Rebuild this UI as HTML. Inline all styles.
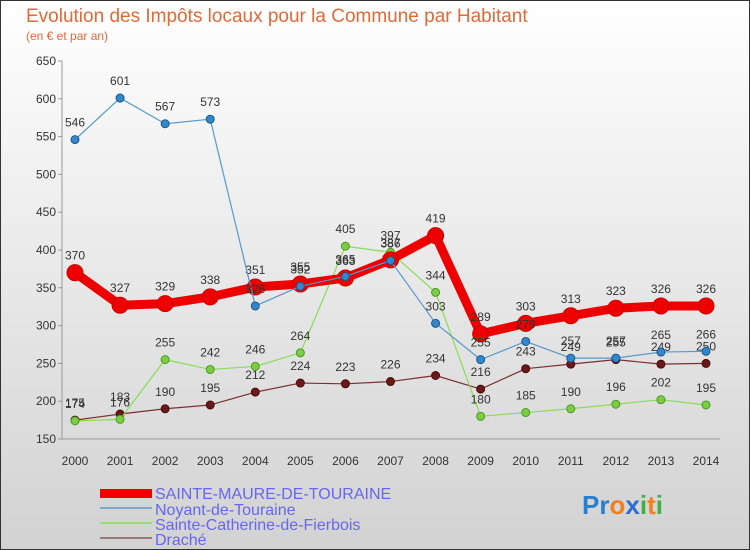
<!DOCTYPE html>
<html><head><meta charset="utf-8"><style>
body{margin:0;}
#c{position:relative;width:750px;height:550px;overflow:hidden;font-family:"Liberation Sans",sans-serif;}
</style></head><body>
<div id="c">
<svg id="s" width="750" height="550" xmlns="http://www.w3.org/2000/svg">
<defs><linearGradient id="bg" x1="0" y1="0" x2="0" y2="1"><stop offset="0" stop-color="#ffffff"/><stop offset="1" stop-color="#d2d2d2"/></linearGradient></defs>
<rect x="0" y="0" width="750" height="550" fill="url(#bg)" stroke="#333" stroke-width="2"/>
<text x="26" y="22" font-size="19" fill="#e06a3a">Evolution des Impôts locaux pour la Commune par Habitant</text>
<text x="26" y="40" font-size="12" fill="#e06a3a">(en € et par an)</text>
<g id="axes"></g><g id="series"></g>
<g font-size="16" fill="#6666ee">
<rect x="100" y="489" width="52" height="9" fill="#ee0000"/>
<text x="155" y="499">SAINTE-MAURE-DE-TOURAINE</text>
<line x1="100" y1="508" x2="152" y2="508" stroke="#7aaad0" stroke-width="2"/>
<text x="155" y="515">Noyant-de-Touraine</text>
<line x1="100" y1="523" x2="152" y2="523" stroke="#99dd77" stroke-width="2"/>
<text x="155" y="530">Sainte-Catherine-de-Fierbois</text>
<line x1="100" y1="538" x2="152" y2="538" stroke="#997777" stroke-width="2"/>
<text x="155" y="545">Draché</text>
</g>
<text x="582" y="514" font-size="26" font-weight="bold"><tspan fill="#2a7fd0">Pr</tspan><tspan fill="#f08020">o</tspan><tspan fill="#2a6fd0">x</tspan><tspan fill="#40b040">i</tspan><tspan fill="#f08020">t</tspan><tspan fill="#40b040">i</tspan></text>
</svg>
</div>
<script>
const years=[2000,2001,2002,2003,2004,2005,2006,2007,2008,2009,2010,2011,2012,2013,2014];
const sainteMaure=[370,327,329,338,351,355,363,387,419,289,303,313,323,326,326];
const noyant=[546,601,567,573,326,352,365,386,303,255,279,257,257,265,266];
const sainteCatherine=[174,176,255,242,246,264,405,397,344,180,185,190,196,202,195];
const drache=[175,183,190,195,212,224,223,226,234,216,243,249,255,249,250];
const yTicks=[150,200,250,300,350,400,450,500,550,600,650];
const NS="http://www.w3.org/2000/svg";
const xS=i=>75+i*(706-75)/14;
const yS=v=>439-(v-150)*378/500;
function el(t,a,p){const e=document.createElementNS(NS,t);for(const k in a)e.setAttribute(k,a[k]);p.appendChild(e);return e;}
const ax=document.getElementById('axes');
let l=el('line',{x1:62,y1:yS(650),x2:62,y2:439,stroke:'#999'},ax);


l=el('line',{x1:62,y1:439,x2:720,y2:439,stroke:'#999'},ax);


yTicks.forEach(v=>{const t=el('text',{x:56,y:yS(v)+4,'font-size':12,'text-anchor':'end',fill:'#333'},ax);t.textContent=v;


el('line',{x1:58,y1:yS(v),x2:62,y2:yS(v),stroke:'#999'},ax);});
years.forEach((y,i)=>{const t=el('text',{x:xS(i),y:465,'font-size':12,'text-anchor':'middle',fill:'#333'},ax);t.textContent=y;

});
const sg=document.getElementById('series');
function draw(data,name,color,w,r,fill,stroke){
const g=el('g',{},sg);


const p=el('polyline',{points:data.map((v,i)=>xS(i)+','+yS(v)).join(' '),fill:'none',stroke:color,'stroke-width':w,'stroke-linejoin':'round'},g);


data.forEach((v,i)=>{const c=el('circle',{cx:xS(i),cy:yS(v),r:r,fill:fill,stroke:stroke,'stroke-width':1},g);


const t=el('text',{x:xS(i),y:yS(v)-13,'font-size':12,'text-anchor':'middle',fill:'#333'},g);t.textContent=v;

});}
draw(drache,'drache','#7a3030',1.2,4,'#6a1a1a','#4a0a0a');
draw(sainteCatherine,'sainte-catherine','#88dd55',1.2,4,'#7ccc44','#4a9a22');
draw(sainteMaure,'sainte-maure','#ee0000',9,8,'#ee0000','#cc0000');
draw(noyant,'noyant','#5599cc',1.2,4,'#3388cc','#1a5588');
</script>
</body></html>
